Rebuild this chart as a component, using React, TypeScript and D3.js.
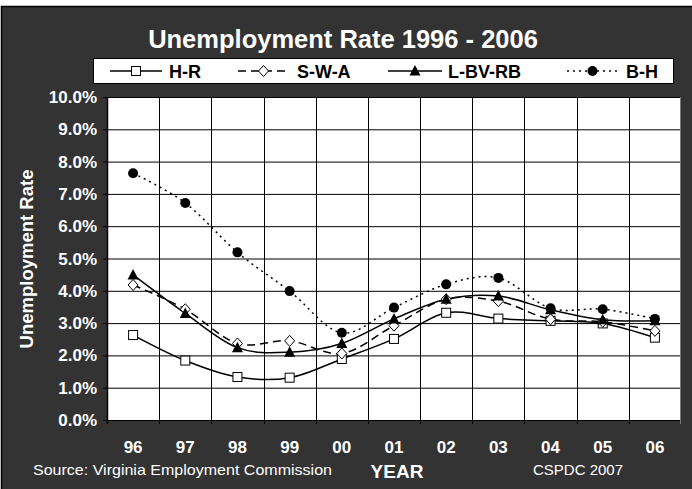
import { useEffect, useRef } from 'react';
import * as d3 from 'd3';

const years = ['96', '97', '98', '99', '00', '01', '02', '03', '04', '05', '06'];
const hr = [2.63, 1.84, 1.33, 1.31, 1.89, 2.51, 3.32, 3.14, 3.07, 2.99, 2.55];
const swa = [4.18, 3.43, 2.37, 2.45, 2.06, 2.92, 3.74, 3.68, 3.12, 3.04, 2.76];
const lbv = [4.49, 3.3, 2.24, 2.1, 2.37, 3.13, 3.74, 3.84, 3.41, 3.1, 3.07];
const bh = [7.64, 6.72, 5.19, 3.99, 2.7, 3.48, 4.2, 4.4, 3.46, 3.43, 3.13];
const yTicks = [0, 1, 2, 3, 4, 5, 6, 7, 8, 9, 10];

type Marker = 'square' | 'diamond' | 'triangle' | 'circle';
interface Series {
  name: string;
  values: number[];
  dash: string;
  marker: Marker;
}

const series: Series[] = [
  { name: 'H-R', values: hr, dash: '', marker: 'square' },
  { name: 'S-W-A', values: swa, dash: '8,5', marker: 'diamond' },
  { name: 'L-BV-RB', values: lbv, dash: '', marker: 'triangle' },
  { name: 'B-H', values: bh, dash: '2,4', marker: 'circle' },
];

const FONT = 'Liberation Sans, Arial, sans-serif';

const drawMarker = (g: d3.Selection<SVGGElement, unknown, null, undefined>, m: Marker, x: number, y: number) => {
  if (m === 'square') {
    g.append('rect').attr('x', x - 4.5).attr('y', y - 4.5).attr('width', 9).attr('height', 9)
      .attr('fill', '#fff').attr('stroke', '#000').attr('stroke-width', 1);
  } else if (m === 'diamond') {
    g.append('path').attr('d', `M${x},${y - 5.5}L${x + 5},${y}L${x},${y + 5.5}L${x - 5},${y}Z`)
      .attr('fill', '#fff').attr('stroke', '#000').attr('stroke-width', 1);
  } else if (m === 'triangle') {
    g.append('path').attr('d', `M${x},${y - 6}L${x + 5.5},${y + 4.5}L${x - 5.5},${y + 4.5}Z`)
      .attr('fill', '#000');
  } else {
    g.append('circle').attr('cx', x).attr('cy', y).attr('r', 5).attr('fill', '#000');
  }
};

const Chart = () => {
  const svgRef = useRef<SVGSVGElement>(null);

  useEffect(() => {
    if (!svgRef.current) return;
    const root = d3.select(svgRef.current);
    root.selectAll('*').remove();

    // Background
    root.append('rect').attr('x', 1.5).attr('y', 6.5).attr('width', 700).attr('height', 500)
      .attr('fill', '#333').attr('stroke', '#000').attr('stroke-width', 1.5);

    const left = 107, right = 681, top = 97, bottom = 420;

    const x = d3.scaleBand<string>().domain(years).range([left, right]);
    const y = d3.scaleLinear().domain([0, 10]).range([bottom, top]);

    // Plot area
    root.append('rect').attr('x', left).attr('y', top).attr('width', right - left).attr('height', bottom - top)
      .attr('fill', '#fff');

    const grid = root.append('g');
    yTicks.forEach(t => {
      grid.append('line').attr('x1', left - 4).attr('x2', right).attr('y1', y(t) + 0.5).attr('y2', y(t) + 0.5)
        .attr('stroke', '#000').attr('stroke-width', 1);
    });
    years.forEach((yr, i) => {
      const bx = Math.round(x(yr)!) + 0.5;
      if (i > 0) {
        grid.append('line').attr('x1', bx).attr('x2', bx).attr('y1', top).attr('y2', bottom + 4)
          .attr('stroke', '#000').attr('stroke-width', 1);
      }
    });
    grid.append('line').attr('x1', right - 0.5).attr('x2', right - 0.5).attr('y1', top).attr('y2', bottom + 4)
      .attr('stroke', '#777').attr('stroke-width', 1);
    grid.append('line').attr('x1', left + 0.5).attr('x2', left + 0.5).attr('y1', top).attr('y2', bottom + 4)
      .attr('stroke', '#000').attr('stroke-width', 1.5);

    // Y tick labels
    root.append('g').selectAll('text').data(yTicks).enter().append('text')
      .attr('x', 97).attr('y', d => y(d) + 6)
      .attr('text-anchor', 'end').attr('fill', '#fff')
      .attr('font-family', FONT).attr('font-weight', 'bold').attr('font-size', 17)
      .text(d => `${d.toFixed(1)}%`);

    // X tick labels
    root.append('g').selectAll('text').data(years).enter().append('text')
      .attr('x', d => x(d)! + x.bandwidth() / 2).attr('y', 453)
      .attr('text-anchor', 'middle').attr('fill', '#fff')
      .attr('font-family', FONT).attr('font-weight', 'bold').attr('font-size', 17)
      .text(d => d);

    // Series
    const cx = (i: number) => x(years[i])! + x.bandwidth() / 2;
    const line = d3.line<number>()
      .x((_, i) => cx(i))
      .y(d => y(d))
      .curve(d3.curveCatmullRom.alpha(0));

    series.forEach(s => {
      root.append('path').datum(s.values)
        .attr('fill', 'none').attr('stroke', '#000').attr('stroke-width', 1.5)
        .attr('stroke-dasharray', s.dash || null)
        .attr('d', line);
    });
    series.forEach(s => {
      const g = root.append('g');
      s.values.forEach((v, i) => drawMarker(g, s.marker, cx(i), y(v)));
    });

    // Title
    root.append('text').attr('x', 343).attr('y', 48).attr('text-anchor', 'middle')
      .attr('fill', '#fff').attr('font-family', FONT).attr('font-weight', 'bold').attr('font-size', 25.5)
      .text('Unemployment Rate 1996 - 2006');

    // Legend
    const lg = root.append('g');
    lg.append('rect').attr('x', 93.5).attr('y', 58.5).attr('width', 580).attr('height', 25)
      .attr('fill', '#fff').attr('stroke', '#000').attr('stroke-width', 1);
    const legendPos = [
      { x1: 110, x2: 162, tx: 169 },
      { x1: 238, x2: 289, tx: 297 },
      { x1: 388, x2: 442, tx: 448 },
      { x1: 567, x2: 618, tx: 626 },
    ];
    series.forEach((s, i) => {
      const p = legendPos[i];
      const ly = 71;
      lg.append('line').attr('x1', p.x1).attr('x2', p.x2).attr('y1', ly).attr('y2', ly)
        .attr('stroke', '#000').attr('stroke-width', 1.5).attr('stroke-dasharray', s.dash || null);
      const mg = lg.append('g');
      drawMarker(mg, s.marker, (p.x1 + p.x2) / 2, ly);
      lg.append('text').attr('x', p.tx).attr('y', ly + 6.5)
        .attr('font-family', FONT).attr('font-weight', 'bold').attr('font-size', 18)
        .attr('fill', '#000').text(s.name);
    });

    // Axis titles
    root.append('text').attr('transform', 'translate(33,259) rotate(-90)')
      .attr('text-anchor', 'middle').attr('fill', '#fff')
      .attr('font-family', FONT).attr('font-weight', 'bold').attr('font-size', 18.5)
      .text('Unemployment Rate');
    root.append('text').attr('x', 397).attr('y', 478).attr('text-anchor', 'middle')
      .attr('fill', '#fff').attr('font-family', FONT).attr('font-weight', 'bold').attr('font-size', 19)
      .text('YEAR');

    // Footnotes
    root.append('text').attr('x', 33).attr('y', 475)
      .attr('fill', '#fff').attr('font-family', FONT).attr('font-size', 15)
      .attr('textLength', 299).attr('lengthAdjust', 'spacingAndGlyphs')
      .text('Source: Virginia Employment Commission');
    root.append('text').attr('x', 533).attr('y', 475)
      .attr('fill', '#fff').attr('font-family', FONT).attr('font-size', 15)
      .text('CSPDC 2007');
  }, []);

  return <svg ref={svgRef} width={692} height={489} style={{ display: 'block' }} />;
};

export default function App() {
  return (
    <>
      <style>{'body{margin:0;}'}</style>
      <Chart />
    </>
  );
}
